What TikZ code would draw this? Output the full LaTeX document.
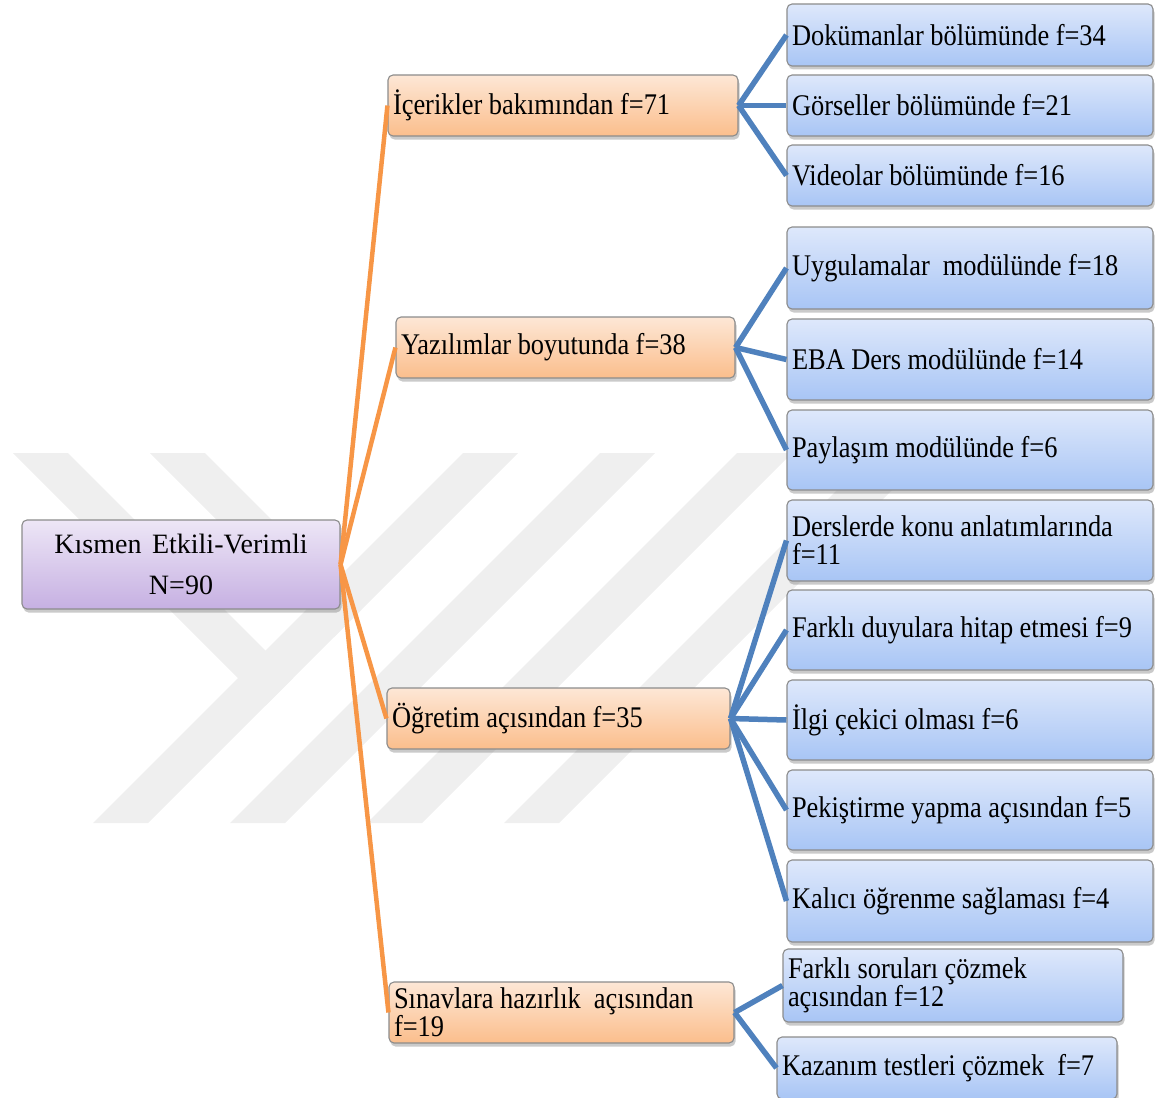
\documentclass[tikz,border=0pt]{standalone}
\usepackage{fontspec}
\setmainfont{Liberation Serif}
\newfontfamily\narrowserif{Liberation Serif}[FakeStretch=0.88]
\usetikzlibrary{shadows}

\definecolor{wm}{RGB}{239,239,239}
\definecolor{boxline}{RGB}{140,140,140}
\definecolor{bluetop}{RGB}{222,232,251}
\definecolor{bluebot}{RGB}{168,197,245}
\definecolor{orangetop}{RGB}{253,231,214}
\definecolor{orangebot}{RGB}{251,190,140}
\definecolor{purpletop}{RGB}{237,230,246}
\definecolor{purplebot}{RGB}{198,176,226}
\definecolor{orangeln}{RGB}{247,150,70}
\definecolor{blueln}{RGB}{79,129,189}

\tikzset{
  box/.style={draw=boxline, line width=1.1pt, rounded corners=5pt,
    inner xsep=5pt, inner ysep=0pt, align=flush left,
    drop shadow={shadow xshift=1.5pt, shadow yshift=-3.5pt, opacity=0.35, fill=black!60},
    font=\narrowserif\fontsize{30}{28}\selectfont,
    execute at begin node={\spaceskip=6.5pt plus 1pt\relax}},
  bluebox/.style={box, top color=bluetop, bottom color=bluebot, text width=356pt},
  orangebox/.style={box, top color=orangetop, bottom color=orangebot, minimum height=61pt},
  rootbox/.style={box, top color=purpletop, bottom color=purplebot, align=center,
    font=\rmfamily\fontsize{28}{41}\selectfont,
    execute at begin node={\spaceskip=10pt plus 1pt\relax}},
  orangeline/.style={draw=orangeln, line width=4.5pt},
  blueline/.style={draw=blueln, line width=5.5pt},
}

\begin{document}
\begin{tikzpicture}[x=1pt,y=-1pt]
\useasboundingbox (0,0) rectangle (1155,1097);

% faint chevron watermark
\foreach \b in {93,230,367,504}{
  \fill[wm] (\b,823) -- (\b+55,823) -- (\b+425,453) -- (\b+370,453) -- cycle;
}
\fill[wm] (13,453) -- (68,453) -- (293,678) -- (265.5,705.5) -- cycle;
\fill[wm] (150,453) -- (205,453) -- (361.5,609.5) -- (334,637) -- cycle;

% root
\node[rootbox, text width=308pt, minimum height=89pt] (root) at (181,564.5)
  {Kısmen Etkili-Verimli\\N=90};

% first level
\node[orangebox, text width=340pt] (icerik) at (563,105.5) {İçerikler bakımından f=71};
\node[orangebox, text width=329pt] (yazilim) at (565.5,347.5) {Yazılımlar boyutunda f=38};
\node[orangebox, text width=333pt] (ogretim) at (558.5,718.5) {Öğretim açısından f=35};
\node[orangebox, text width=335pt] (sinav) at (561.5,1012.5) {Sınavlara hazırlık\ \ açısından\\f=19};

% second level
\node[bluebox, minimum height=62pt] (dok) at (970,35) {Dokümanlar bölümünde f=34};
\node[bluebox, minimum height=61pt] (gor) at (970,105.5) {Görseller bölümünde f=21};
\node[bluebox, minimum height=61pt] (vid) at (970,175.5) {Videolar bölümünde f=16};

\node[bluebox, minimum height=82pt] (uyg) at (970,268) {Uygulamalar\ \ modülünde f=18};
\node[bluebox, minimum height=81pt] (eba) at (970,359.5) {EBA Ders modülünde f=14};
\node[bluebox, minimum height=80pt] (pay) at (970,450) {Paylaşım modülünde f=6};

\node[bluebox, minimum height=81pt] (ders) at (970,540.5) {Derslerde konu anlatımlarında\\f=11};
\node[bluebox, minimum height=80pt] (duyu) at (970,630) {Farklı duyulara hitap etmesi f=9};
\node[bluebox, minimum height=80pt] (ilgi) at (970,720) {İlgi çekici olması f=6};
\node[bluebox, minimum height=80pt] (pek) at (970,810) {Pekiştirme yapma açısından f=5};
\node[bluebox, minimum height=82pt] (kal) at (970,901) {Kalıcı öğrenme sağlaması f=4};

\node[bluebox, text width=330pt, minimum height=73pt] (soru) at (953,985.5) {Farklı soruları çözmek\\açısından f=12};
\node[bluebox, text width=330pt, minimum height=62pt] (kaz) at (947,1068) {Kazanım testleri çözmek\ \ f=7};

% connectors
\foreach \n in {icerik,yazilim,ogretim,sinav}
  \draw[orangeline] (root.east) -- (\n.west);
\foreach \n in {dok,gor,vid}
  \draw[blueline] (icerik.east) -- (\n.west);
\foreach \n in {uyg,eba,pay}
  \draw[blueline] (yazilim.east) -- (\n.west);
\foreach \n in {ders,duyu,ilgi,pek,kal}
  \draw[blueline] (ogretim.east) -- (\n.west);
\foreach \n in {soru,kaz}
  \draw[blueline] (sinav.east) -- (\n.west);
\end{tikzpicture}
\end{document}
